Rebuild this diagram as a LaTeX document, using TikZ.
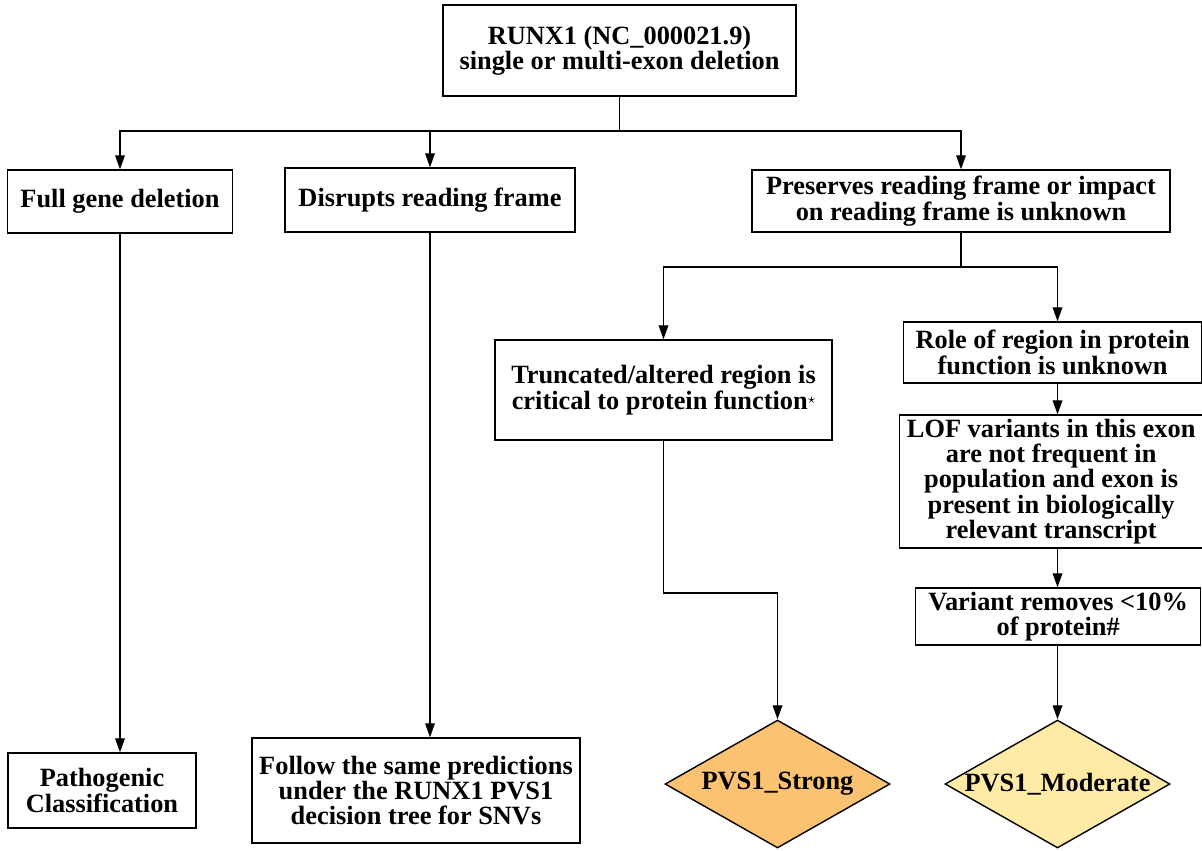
\documentclass[tikz,border=0pt]{standalone}
\usepackage{fontspec}
\setmainfont{Liberation Serif}
\usepackage{xcolor}
\usepackage{tikz}
\usetikzlibrary{positioning, arrows.meta, shapes.geometric}

\definecolor{strongfill}{RGB}{251,194,114}
\definecolor{moderatefill}{RGB}{255,234,166}

\begin{document}
\begin{tikzpicture}[x=0.02cm, y=-0.02cm,
  box/.style={draw, line width=0.8pt, align=center, inner sep=2pt, font=\fontsize{15}{14.4}\selectfont\bfseries},
  decision/.style={draw, line width=0.8pt, diamond, aspect=1.76, inner xsep=-8pt, inner ysep=0pt, minimum width=4.5cm, minimum height=2.56cm, font=\fontsize{15}{14.4}\selectfont\bfseries},
  arr/.style={line width=0.8pt, -{Triangle[length=8pt, width=5.5pt]}},
  link/.style={line width=0.8pt}]
 \useasboundingbox (0,0) rectangle (1202,850);

 \node[box, minimum width=7.06cm, minimum height=1.82cm] (runx) at (619.5,50.5) {RUNX1 (NC\_000021.9)\\single or multi-exon deletion};

 %first level
 \node[box, minimum width=4.5cm, minimum height=1.26cm] (full) at (120,201.5) {Full gene deletion};
 \node[box, minimum width=5.8cm, minimum height=1.28cm] (disrupt) at (430,200) {Disrupts reading frame};
 \node[box, minimum width=8.36cm, minimum height=1.24cm] (preserve) at (961,201) {Preserves reading frame or impact\\on reading frame is unknown};

 %second level
 \node[box, minimum width=6.74cm, minimum height=2.0cm] (critical) at (663.5,390) {Truncated/altered region is\\critical to protein function\raisebox{0.45ex}{\footnotesize$\star$}};
 \node[box, anchor=west, minimum width=5.96cm, minimum height=1.22cm] (role) at (903,352.5) {Role of region in protein\\function is unknown};
 \node[box, anchor=west, minimum width=6.06cm, minimum height=2.66cm] (lof) at (899,481.5) {LOF variants in this exon\\are not frequent in\\population and exon is\\present in biologically\\relevant transcript};
 \node[box, anchor=west, minimum width=5.7cm, minimum height=1.14cm] (removes) at (915,616.5) {Variant removes <10\%\\of protein\#};

 %outcomes
 \node[box, minimum width=3.76cm, minimum height=1.5cm] (patho) at (102,790.5) {Pathogenic\\Classification};
 \node[box, minimum width=6.56cm, minimum height=2.1cm] (follow) at (416,790.5) {Follow the same predictions\\under the RUNX1 PVS1\\decision tree for SNVs};
 \node[decision, fill=strongfill] (strong) at (777.5,784) {PVS1\_Strong};
 \node[decision, fill=moderatefill] (moderate) at (1057.5,784) {PVS1\_Moderate};

 \coordinate (split1) at (619.5,131);
 \coordinate (split2) at (961,267);
 \coordinate (bend) at (663.5,593);

 \draw[link] (runx) -- (split1);
 \draw[arr] (split1) -| (full);
 \draw[arr] (split1) -| (disrupt);
 \draw[arr] (split1) -| (preserve);

 \draw[link] (preserve) -- (split2);
 \draw[arr] (split2) -| (critical);
 \draw[arr] (split2) -| (role.north -| moderate);
 \draw[arr] (role.south -| moderate) -- (lof.north -| moderate);
 \draw[arr] (lof.south -| moderate) -- (removes.north -| moderate);
 \draw[arr] (removes.south -| moderate) -- (moderate);
 \draw[arr] (critical) -- (bend) -| (strong);

 \draw[arr] (full) -- (patho.north -| full.south);
 \draw[arr] (disrupt) -- (follow.north -| disrupt.south);
\end{tikzpicture}
\end{document}
